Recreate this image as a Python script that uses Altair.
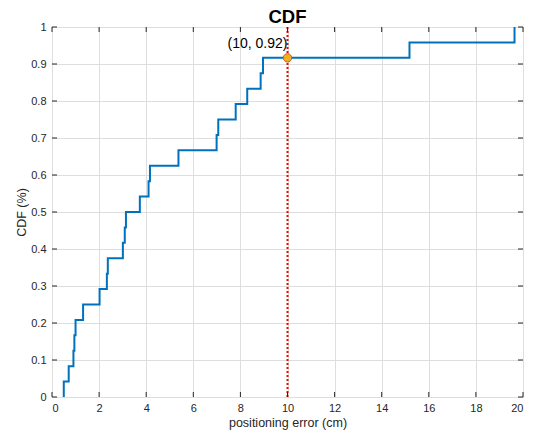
import altair as alt
import pandas as pd

# sorted positioning errors (cm), n = 24
errors = [0.5, 0.71, 0.91, 0.95, 1.0, 1.32, 2.02, 2.33, 2.37, 3.01, 3.09, 3.14,
          3.73, 4.1, 4.16, 5.37, 6.99, 7.06, 7.8, 8.29, 8.86, 8.96, 15.18, 19.64]
n = len(errors)
xs = [errors[0]] + errors
ys = [0.0] + [(i + 1) / n for i in range(n)]
cdf = pd.DataFrame({"x": xs, "y": ys})

x_ticks = list(range(0, 21, 2))
y_ticks = [round(i / 10, 1) for i in range(11)]

mark_x = [10]
mark_y = [22 / 24]
mark_label = ["(10, 0.92)"]

W, H = 471, 370
FONT = "Liberation Sans"
AX = "#262626"

xscale = alt.Scale(domain=[0, 20], nice=False, zero=False)
yscale = alt.Scale(domain=[0, 1], nice=False, zero=False)

xaxis = alt.Axis(title="positioning error (cm)", values=x_ticks, grid=True,
                 gridColor="#dedede", gridWidth=1, ticks=False, domain=False,
                 labelPadding=5, labelFontSize=11, labelColor=AX, titleColor=AX,
                 titleFontSize=12.5, titleFontWeight="normal", titlePadding=3,
                 labelFont=FONT, titleFont=FONT)
yaxis = alt.Axis(title="CDF (%)", values=y_ticks, grid=True, format="~g",
                 gridColor="#dedede", gridWidth=1, ticks=False, domain=False,
                 labelPadding=6, labelFontSize=11, labelColor=AX, titleColor=AX,
                 titleFontSize=12.5, titleFontWeight="normal", titlePadding=2,
                 labelFont=FONT, titleFont=FONT, labelOverlap=False)

line = alt.Chart(cdf).mark_line(interpolate="step-after", color="#0072BD", strokeWidth=2).encode(
    x=alt.X("x:Q", scale=xscale, axis=xaxis),
    y=alt.Y("y:Q", scale=yscale, axis=yaxis),
)

xt = pd.DataFrame({"t": x_ticks})
yt = pd.DataFrame({"t": y_ticks})

xtick_b = alt.Chart(xt).mark_rule(color=AX, strokeWidth=1).encode(
    x=alt.X("t:Q", scale=xscale, axis=xaxis), y=alt.value(H), y2=alt.value(H - 5))
xtick_t = alt.Chart(xt).mark_rule(color=AX, strokeWidth=1).encode(
    x=alt.X("t:Q", scale=xscale, axis=xaxis), y=alt.value(0), y2=alt.value(5))
ytick_l = alt.Chart(yt).mark_rule(color=AX, strokeWidth=1).encode(
    y=alt.Y("t:Q", scale=yscale, axis=yaxis), x=alt.value(0), x2=alt.value(5))
ytick_r = alt.Chart(yt).mark_rule(color=AX, strokeWidth=1).encode(
    y=alt.Y("t:Q", scale=yscale, axis=yaxis), x=alt.value(W), x2=alt.value(W - 5))

mk = pd.DataFrame({"x": mark_x, "y": mark_y, "label": mark_label})

vline = alt.Chart(mk).mark_rule(color="#ff0000", strokeWidth=2, strokeDash=[2, 2]).encode(
    x=alt.X("x:Q", scale=xscale, axis=xaxis), y=alt.value(0), y2=alt.value(H))

point = alt.Chart(mk).mark_point(filled=True, size=70, fill="#EDB120",
                                 stroke="#D95319", strokeWidth=1, opacity=1).encode(
    x=alt.X("x:Q", scale=xscale, axis=xaxis), y=alt.Y("y:Q", scale=yscale, axis=yaxis))

label = alt.Chart(mk).mark_text(align="right", baseline="bottom", dx=0, dy=-7,
                                fontSize=14, font=FONT, color="#000000").encode(
    x=alt.X("x:Q", scale=xscale, axis=xaxis), y=alt.Y("y:Q", scale=yscale, axis=yaxis),
    text="label:N")

chart = alt.layer(line, vline, xtick_b, xtick_t, ytick_l, ytick_r, point, label).properties(
    width=W, height=H,
    autosize=alt.AutoSizeParams(type="none"),
    padding={"left": 44, "top": 19, "right": 9, "bottom": 33},
    title=alt.TitleParams("CDF", fontSize=18.5, fontWeight="bold", font=FONT,
                          color="#000000", offset=4, dy=9, anchor="middle"),
).configure_view(stroke=AX, strokeWidth=1).configure(background="#ffffff")

chart.save("out.html", embed_options={"renderer": "svg", "actions": False})
